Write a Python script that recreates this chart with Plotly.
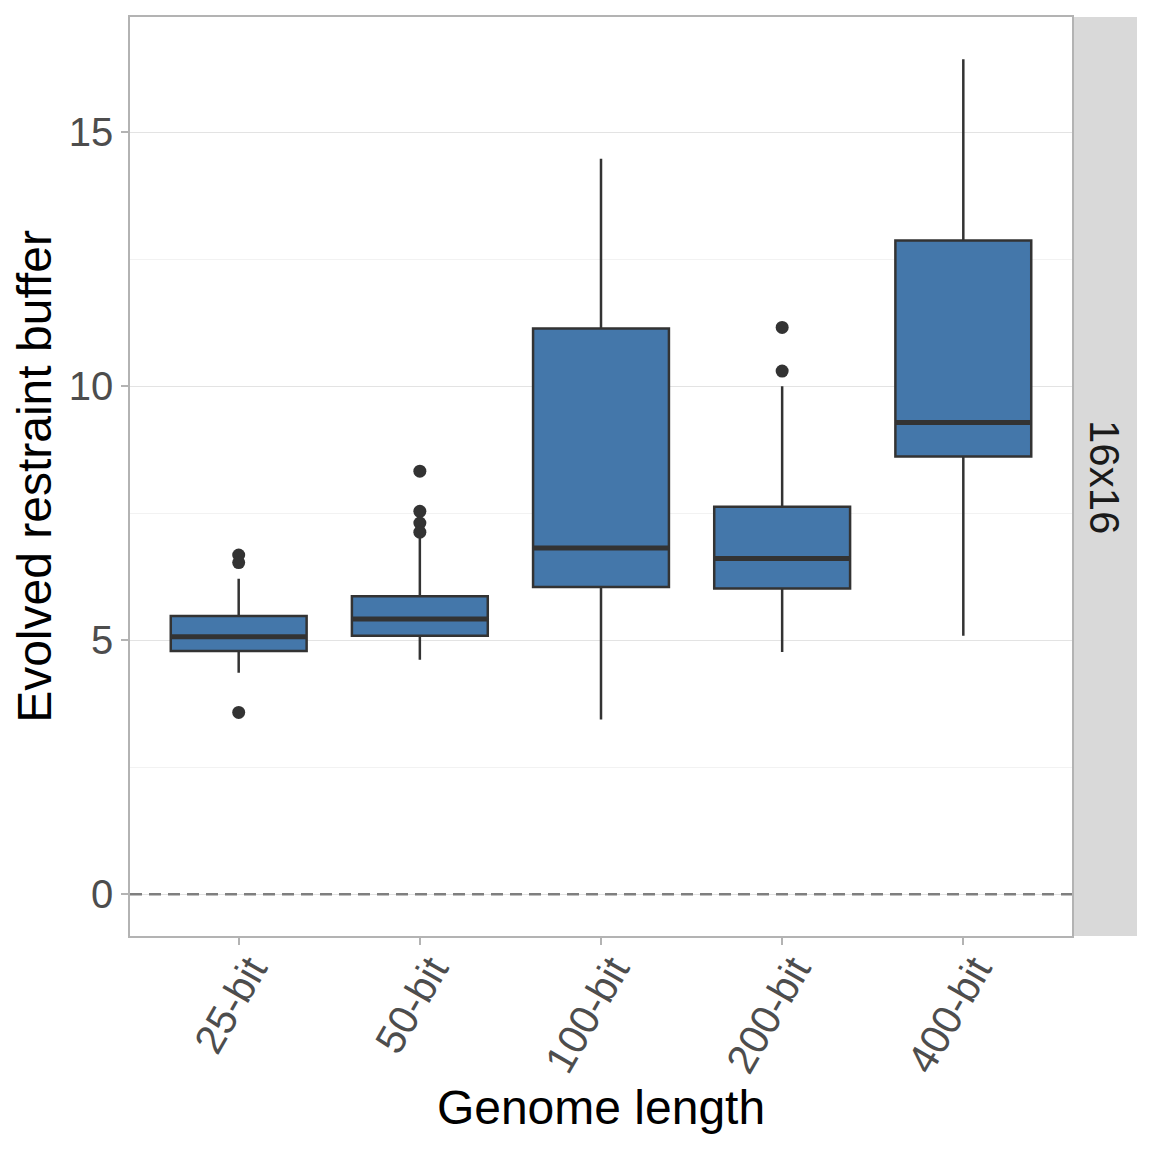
import plotly.graph_objects as go

categories = ["25-bit", "50-bit", "100-bit", "200-bit", "400-bit"]
q1 = [4.79, 5.09, 6.05, 6.02, 8.62]
median = [5.07, 5.42, 6.82, 6.61, 9.29]
q3 = [5.48, 5.87, 11.14, 7.63, 12.87]
lower_whisker = [4.36, 4.62, 3.44, 4.77, 5.09]
upper_whisker = [6.21, 7.02, 14.48, 10.0, 16.44]

outlier_x = ["25-bit", "25-bit", "25-bit", "50-bit", "50-bit", "50-bit", "50-bit", "200-bit", "200-bit"]
outlier_y = [6.68, 6.53, 3.58, 8.33, 7.54, 7.31, 7.13, 11.16, 10.30]

facet_label = "16x16"
y_ticks = [0, 5, 10, 15]

FILL = "#4477AA"
LINE = "#333333"

fig = go.Figure()
fig.add_trace(go.Box(
    x=categories, q1=q1, median=median, q3=q3,
    lowerfence=lower_whisker, upperfence=upper_whisker,
    width=0.75,
    fillcolor=FILL, line=dict(color=LINE, width=2.5),
    whiskerwidth=0, boxpoints=False, showlegend=False, hoverinfo="skip",
))
fig.add_trace(go.Scatter(
    x=outlier_x, y=outlier_y, mode="markers",
    marker=dict(color=LINE, size=13), showlegend=False, hoverinfo="skip",
))

# thicker median lines
for i, m in enumerate(median):
    fig.add_shape(type="line", xref="x", yref="y", x0=i - 0.375, x1=i + 0.375,
                  y0=m, y1=m, line=dict(color=LINE, width=5))

# dashed zero line
fig.add_shape(type="line", xref="paper", yref="y", x0=0, x1=1, y0=0, y1=0,
              line=dict(color="#7f7f7f", width=2.5, dash="12px,7px"))

# facet strip
strip_w = 65 / 942
fig.add_shape(type="rect", xref="paper", yref="paper", x0=1, x1=1 + strip_w,
              y0=0, y1=1, fillcolor="#d9d9d9", line=dict(width=0), layer="below")
fig.add_annotation(xref="paper", yref="paper", x=1 + strip_w / 2, y=0.5,
                   xanchor="center", yanchor="middle",
                   text=facet_label, textangle=90, showarrow=False,
                   font=dict(size=42, color="#1a1a1a"))

fig.update_layout(
    width=1152, height=1152,
    margin=dict(l=122, r=88, t=7, b=224),
    plot_bgcolor="white", paper_bgcolor="white",
    font=dict(family="Liberation Sans, Arial, sans-serif"),
    xaxis=dict(
        type="category", categoryorder="array", categoryarray=categories,
        range=[-0.6, 4.6], showgrid=False, zeroline=False,
        showline=True, linecolor="#b3b3b3", linewidth=1.5, mirror=True,
        ticks="outside", ticklen=7, tickcolor="#b3b3b3", tickwidth=1.5,
        tickangle=-60, tickfont=dict(size=41, color="#4d4d4d"),
        ticklabelstandoff=-16, ticklabelshift=12,
        title=dict(text="Genome length", font=dict(size=48, color="black"), standoff=8),
    ),
    yaxis=dict(
        range=[-0.82, 17.27], tickvals=y_ticks, zeroline=False,
        showgrid=True, gridcolor="#e3e3e3", gridwidth=1.3,
        minor=dict(tick0=2.5, dtick=5, showgrid=True, gridcolor="#f2f2f2", gridwidth=1),
        showline=True, linecolor="#b3b3b3", linewidth=1.5, mirror=True,
        ticks="outside", ticklen=7, tickcolor="#b3b3b3", tickwidth=1.5,
        tickfont=dict(size=40, color="#4d4d4d"),
        title=dict(text="Evolved restraint buffer", font=dict(size=48, color="black"), standoff=12),
    ),
)

fig.write_html("out.html")
